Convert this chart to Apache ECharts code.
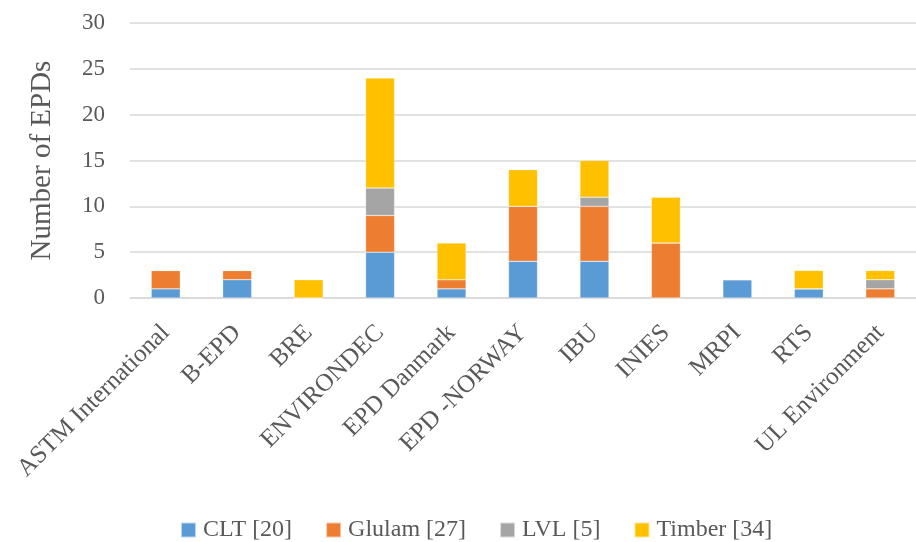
<!DOCTYPE html>
<html>
<head>
<meta charset="utf-8">
<script src="https://cdn.jsdelivr.net/npm/echarts@6/dist/echarts.min.js"></script>
<style>html,body{margin:0;padding:0;background:#fff}#c{width:916px;height:542px}</style>
</head>
<body>
<div id="c"></div>
<script>
const categories = ["ASTM International","B-EPD","BRE","ENVIRONDEC","EPD Danmark","EPD -NORWAY","IBU","INIES","MRPI","RTS","UL Environment"];
const clt    = [1,2,0,5,1,4,4,0,2,1,0];
const glulam = [2,1,0,4,1,6,6,6,0,0,1];
const lvl    = [0,0,0,3,0,0,1,0,0,0,1];
const timber = [0,0,2,12,4,4,4,5,0,2,1];
const seriesNames = ["CLT [20]","Glulam [27]","LVL [5]","Timber [34]"];
const yTicks = [0,5,10,15,20,25,30];

const FONT = "'Liberation Serif', serif";
const TXT = '#595959';
const colors = ['#5B9BD5','#ED7D31','#A5A5A5','#FFC000'];
const chart = echarts.init(document.getElementById('c'), null, {renderer:'canvas'});
const mk = (name, data, i) => ({
  name, type:'bar', stack:'s', data, barWidth:29,
  itemStyle:{color:colors[i], borderColor:'rgba(255,255,255,0.6)', borderWidth:0.5},
  silent:true
});
chart.setOption({
  animation:false,
  color:colors,
  grid:{left:130, top:23, bottom:244, width:794, containLabel:false},
  legend:{
    left:180, top:518, padding:0, itemWidth:15, itemHeight:15, itemGap:33,
    icon:'rect',
    textStyle:{fontFamily:FONT, fontSize:24, color:TXT, padding:[0,0,0,2]},
    data:seriesNames
  },
  xAxis:{
    type:'category', data:categories,
    axisLine:{lineStyle:{color:'#d9d9d9', width:1.5}},
    axisTick:{show:false},
    axisLabel:{rotate:45, interval:0, margin:31, fontFamily:FONT, fontSize:25, color:TXT}
  },
  yAxis:{
    type:'value', min:yTicks[0], max:yTicks[yTicks.length-1], interval:5,
    name:'Number of EPDs', nameLocation:'middle', nameGap:73,
    nameTextStyle:{fontFamily:FONT, fontSize:29, color:TXT},
    axisLine:{show:false}, axisTick:{show:false},
    splitLine:{lineStyle:{color:'#d9d9d9', width:1.5}},
    axisLabel:{margin:25, fontFamily:FONT, fontSize:23, color:TXT}
  },
  series:[mk(seriesNames[0],clt,0),mk(seriesNames[1],glulam,1),mk(seriesNames[2],lvl,2),mk(seriesNames[3],timber,3)]
});
</script>
</body>
</html>
